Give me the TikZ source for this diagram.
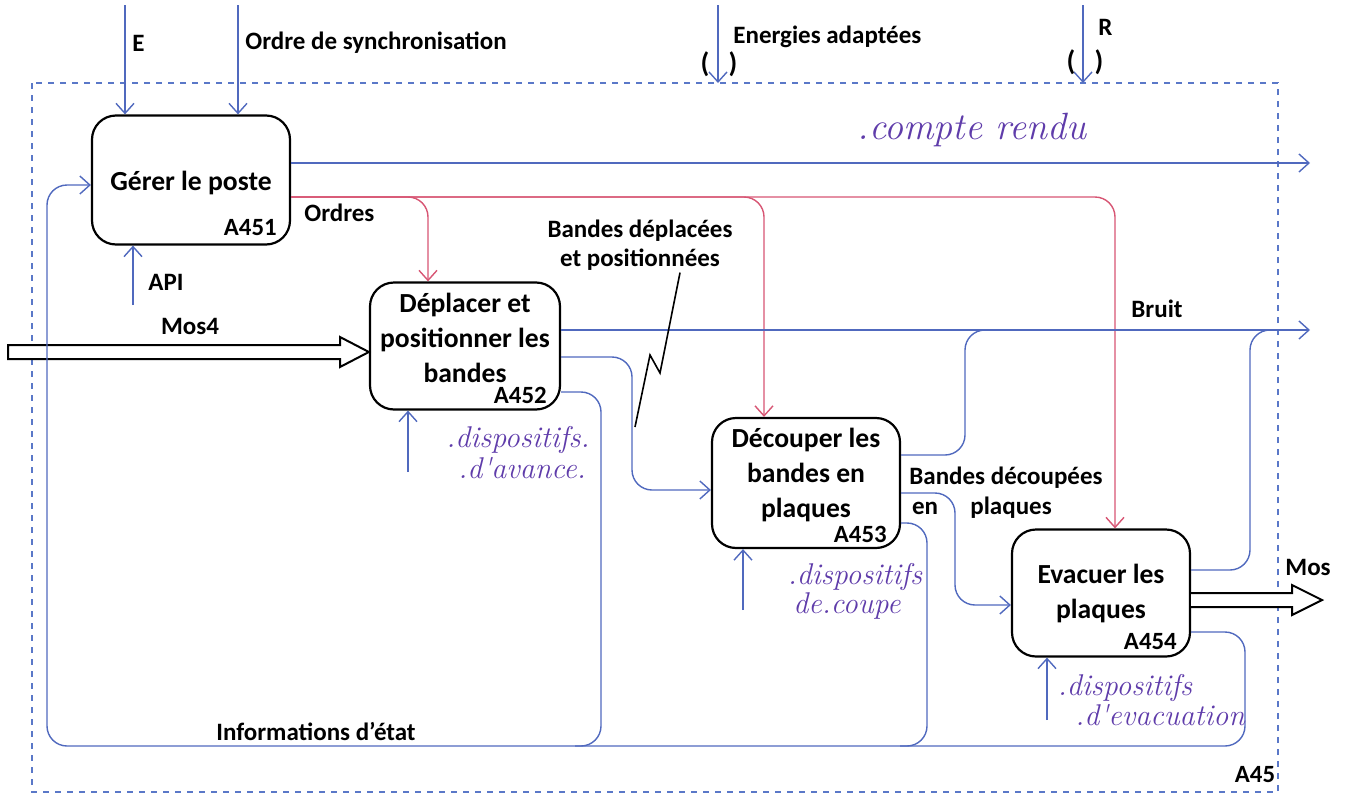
\documentclass[tikz,border=0pt]{standalone}
\usepackage{fontspec}
\setmainfont{Carlito}
\newfontfamily\handfont{Latin Modern Roman}
\usetikzlibrary{arrows.meta,positioning}
\definecolor{flowblue}{RGB}{80,105,190}
\definecolor{ordrered}{RGB}{215,85,115}
\definecolor{inkpurple}{RGB}{95,60,170}
\definecolor{framedash}{RGB}{90,120,200}

\begin{document}
\begin{tikzpicture}[x=0.5pt, y=-0.5pt,
    proc/.style={draw, line width=1.1pt, rounded corners=12pt},
    ptxt/.style={align=center, inner sep=0pt, font=\fontsize{13.8}{17.5}\selectfont\bfseries},
    ida/.style={font=\fontsize{12.4}{13}\selectfont\bfseries, inner sep=1pt},
    lab/.style={font=\fontsize{12.5}{14.5}\selectfont\bfseries, inner sep=1pt, align=center},
    hand/.style={font=\handfont\itshape\fontsize{15}{15}\selectfont, text=inkpurple, inner sep=1pt},
    flow/.style={-{Straight Barb[length=5pt,width=9pt]}, flowblue, line width=0.7pt, rounded corners=10pt},
    link/.style={flowblue, line width=0.7pt, rounded corners=10pt},
    ordre/.style={-{Straight Barb[length=5pt,width=9pt]}, ordrered, line width=0.7pt, rounded corners=10pt},
    fat/.style={draw, line width=1pt, fill=white},
    frame/.style={framedash, dashed, line width=0.7pt}
  ]
  \useasboundingbox (0,0) rectangle (1345,798);
  \draw[frame] (32,83) rectangle (1278,792);

  % activites
  \node[proc, minimum width=99pt, minimum height=64.5pt] (b1) at (191,180) {};
  \node[proc, minimum width=95pt, minimum height=63.5pt] (b2) at (465,346) {};
  \node[proc, minimum width=94pt, minimum height=65pt]   (b3) at (806,483) {};
  \node[proc, minimum width=89pt, minimum height=63.5pt] (b4) at (1101,593) {};
  \node[ptxt] (t1) at ([yshift=-1.5pt]b1.center) {Gérer le poste};
  \node[ptxt] (t2) at ([yshift=4pt]b2.center) {Déplacer et\\ positionner les\\ bandes};
  \node[ptxt] (t3) at ([yshift=4pt]b3.center) {Découper les\\ bandes en\\ plaques};
  \node[ptxt] (t4) at ([yshift=0pt]b4.center) {Evacuer les\\ plaques};
  \node[ida, anchor=south east, xshift=-6pt, yshift=4pt] (id1) at (b1.south east) {A451};
  \node[ida, anchor=south east, xshift=-6pt, yshift=2.5pt] (id2) at (b2.south east) {A452};
  \node[ida, anchor=south east, xshift=-6pt, yshift=2pt] (id3) at (b3.south east) {A453};
  \node[ida, anchor=south east, xshift=-6pt, yshift=3pt] (id4) at (b4.south east) {A454};
  \node[ida] (id45) at (1255,775) {A45};

  % entrees du haut
  \coordinate (e0) at (125,5);
  \coordinate (s0) at (238,5);
  \coordinate (en0) at (718,5);  \coordinate (en1) at (718,83);
  \coordinate (r0) at (1083,5);  \coordinate (r1) at (1083,83);
  \draw[flow] (e0) -- (b1.north -| e0);
  \draw[flow] (s0) -- (b1.north -| s0);
  \draw[flow] (en0) -- (en1);
  \draw[flow] (r0) -- (r1);
  \node[lab, anchor=west] (le) at (130,43) {E};
  \node[lab, anchor=west] (ls) at (243,43) {Ordre de synchronisation};
  \node[lab, anchor=west] (len) at (731,37) {Energies adaptées};
  \node[lab, anchor=west] (lr) at (1096,27) {R};
  \node[lab, font=\fontsize{14}{14}\selectfont\bfseries] (p1) at (705,64) {(};
  \node[lab, font=\fontsize{14}{14}\selectfont\bfseries] (p2) at (733,64) {)};
  \node[lab, font=\fontsize{14}{14}\selectfont\bfseries] (p3) at (1071,62) {(};
  \node[lab, font=\fontsize{14}{14}\selectfont\bfseries] (p4) at (1099,62) {)};

  % compte rendu
  \coordinate (cr) at (1310,163);
  \draw[flow] (b1.east |- cr) -- (cr);
  \node[hand, font=\handfont\itshape\fontsize{19}{19}\selectfont] (lcr) at (972,130) {.compte rendu};

  % ordres
  \draw[ordre] (b1.east |- 0,197) -| (b2.north -| 428,0);
  \draw[ordre] (b1.east |- 0,197) -| (b3.north -| 764,0);
  \draw[ordre] (b1.east |- 0,197) -| (b4.north -| 1115,0);
  \node[lab, anchor=west] (lo) at (302,213) {Ordres};

  % API
  \coordinate (api) at (133,305);
  \draw[flow] (api) -- (b1.south -| api);
  \node[lab, anchor=west] (lapi) at (146,282) {API};

  % Mos4 / Mos
  \draw[fat] (8,345) -- (340,345) -- (340,337) -- (b2.west |- 0,352) -- (340,367) -- (340,359) -- (8,359) -- cycle;
  \node[lab] (lm4) at (190,326) {Mos4};
  \draw[fat] (b4.east |- 0,593) -- (1292,593) -- (1292,585) -- (1322,600) -- (1292,615) -- (1292,607) -- (b4.east |- 0,607);
  \node[lab, anchor=west] (lmos) at (1283,567) {Mos};

  % bruit
  \coordinate (br) at (1310,330);
  \draw[flow] (b2.east |- br) -- (br);
  \draw[link] (b3.east |- 0,455) -- (965,455) -- (965,330) -- (992,330);
  \draw[link] (b4.east |- 0,570) -- (1250,570) -- (1250,330) -- (1276,330);
  \node[lab] (lbr) at (1157,309) {Bruit};

  % bandes
  \draw[flow] (b2.east |- 0,357) -- (632,357) -- (632,490) -- (b3.west |- 0,490);
  \node[lab] (lbd) at (640,245) {Bandes déplacées\\ et positionnées};
  \draw[line width=0.8pt] (lbd.south -| 680,0) -- (660,373) -- (650,355) -- (635,427);
  \draw[flow] (b3.east |- 0,493) -- (955,493) -- (955,605) -- (b4.west |- 0,605);
  \node[lab, anchor=west] (lbc) at (907,478) {Bandes découpées};
  \node[lab] (lbc2) at (925,508) {en};
  \node[lab, anchor=west] (lbc3) at (968,508) {plaques};

  % informations d'etat
  \draw[link] (b2.east |- 0,392) -- (601,392) -- (601,746) -- (575,746);
  \draw[link] (b3.east |- 0,523) -- (927,523) -- (927,746) -- (900,746);
  \draw[flow] (b4.east |- 0,632) -- (1245,632) -- (1245,746) -- (47,746) -- (47,185) -- (b1.west |- 0,185);
  \node[lab] (lie) at (316,731) {Informations d’état};

  % mecanismes
  \coordinate (m2) at (408,472);
  \coordinate (m3) at (743,610);
  \coordinate (m4) at (1047,720);
  \draw[flow] (m2) -- (b2.south -| m2);
  \draw[flow] (m3) -- (b3.south -| m3);
  \draw[flow] (m4) -- (b4.south -| m4);
  \node[hand] (h2a) at (518,440) {.dispositifs.};
  \node[hand] (h2b) at (522,468) {.d'avance.};
  \node[hand] (h3a) at (855,577) {.dispositifs};
  \node[hand] (h3b) at (847,606) {de.coupe};
  \node[hand] (h4a) at (1125,688) {.dispositifs};
  \node[hand] (h4b) at (1160,715) {.d'evacuation};
\end{tikzpicture}
\end{document}
